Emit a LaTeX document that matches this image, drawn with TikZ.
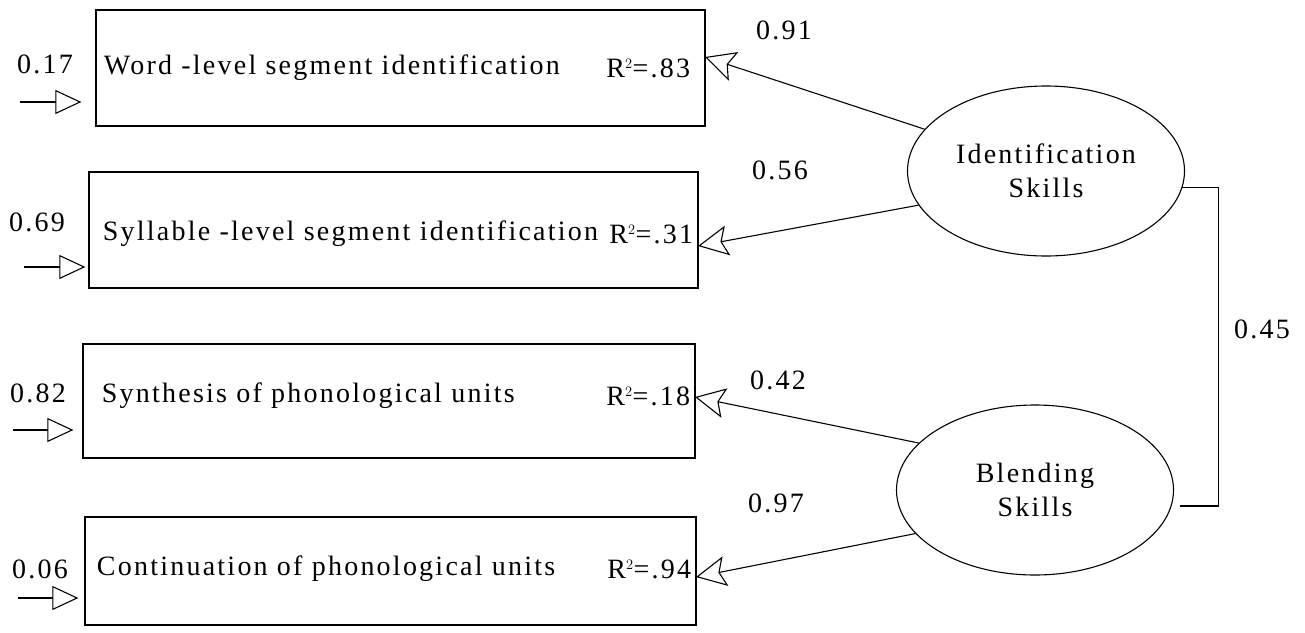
\documentclass[tikz,border=0pt]{standalone}
\usepackage{fontspec}
\setmainfont{Liberation Serif}[LetterSpace=8]
\usetikzlibrary{arrows.meta,shapes.geometric,positioning}

\tikzset{
	indicator/.style={draw, line width=1.3pt, minimum width=610pt, minimum height=115pt},
	factor/.style={draw, ellipse, line width=1.1pt, minimum width=277pt, minimum height=170pt, align=center, font=\fontsize{28}{34}\selectfont},
	loading/.style={line width=1.1pt, -{Stealth[open, length=30pt, width=30pt, inset=6pt, line width=1.1pt]}},
	errarrow/.style={line width=1.1pt, -{Triangle[open, length=26pt, width=24pt, line width=1.1pt]}},
	every node/.style={font=\fontsize{28}{32}\selectfont}
}

\begin{document}
\begin{tikzpicture}[x=1pt, y=-1pt]
	\useasboundingbox (0,0) rectangle (1305,632);

	% observed indicators
	\node [indicator, minimum width=609pt, minimum height=116pt] (word) at (400.5,68) {};
	\node [indicator, minimum width=609pt, minimum height=116pt] (syll) at (393.5,230) {};
	\node [indicator, minimum width=612pt, minimum height=114pt] (synth) at (389,401) {};
	\node [indicator, minimum width=611pt, minimum height=108pt] (cont) at (390.5,571) {};

	\node [anchor=west] (wordtxt) at ([xshift=5pt]word.west) {Word -level segment identification};
	\node [anchor=east] (wordr) at ([xshift=-12pt]word.east) {R$^{\scriptscriptstyle 2}$=.83};
	\node [anchor=west] (sylltxt) at ([xshift=11pt, yshift=-4pt]syll.west) {Syllable -level segment identification};
	\node [anchor=east] (syllr) at ([xshift=-2pt, yshift=-4pt]syll.east) {R$^{\scriptscriptstyle 2}$=.31};
	\node [anchor=west] (synthtxt) at ([xshift=16pt, yshift=5pt]synth.west) {Synthesis of phonological units};
	\node [anchor=east] (synthr) at ([xshift=-2pt, yshift=5pt]synth.east) {R$^{\scriptscriptstyle 2}$=.18};
	\node [anchor=west] (conttxt) at ([xshift=9pt, yshift=2pt]cont.west) {Continuation of phonological units};
	\node [anchor=east] (contr) at ([xshift=-2pt, yshift=2pt]cont.east) {R$^{\scriptscriptstyle 2}$=.94};

	% latent factors
	\node [factor] (ident) at (1046,171) {Identification\\Skills};
	\node [factor] (blend) at (1035,490) {Blending\\Skills};

	% loadings
	\coordinate (wordin) at (705,57);
	\coordinate (syllin) at (698,246);
	\coordinate (synthin) at (695,397);
	\coordinate (contin) at (696,577);
	\draw [loading] (ident.161) -- (wordin);
	\draw [loading] (ident.195) -- (syllin);
	\draw [loading] (blend.158) -- (synthin);
	\draw [loading] (blend.200) -- (contin);
	\node (l1) at (784,30) {0.91};
	\node (l2) at (780,170) {0.56};
	\node (l3) at (778,380) {0.42};
	\node (l4) at (776,503) {0.97};

	% correlation
	\draw [line width=1.1pt] (ident.-7) -- ++(36,0) |- ([xshift=6pt, yshift=-16pt]blend.east);
	\node (r) at (1262,329) {0.45};

	% error terms
	\coordinate (e1) at (20,102);
	\coordinate (e2) at (24,267);
	\coordinate (e3) at (13,430);
	\coordinate (e4) at (18,598);
	\draw [errarrow] (e1) -- ([xshift=-14pt]e1 -| word.west);
	\draw [errarrow] (e2) -- ([xshift=-3pt]e2 -| syll.west);
	\draw [errarrow] (e3) -- ([xshift=-9pt]e3 -| synth.west);
	\draw [errarrow] (e4) -- ([xshift=-6pt]e4 -| cont.west);
	\node (d1) at (45,64) {0.17};
	\node (d2) at (37,222) {0.69};
	\node (d3) at (38,393) {0.82};
	\node (d4) at (40,569) {0.06};
\end{tikzpicture}
\end{document}
